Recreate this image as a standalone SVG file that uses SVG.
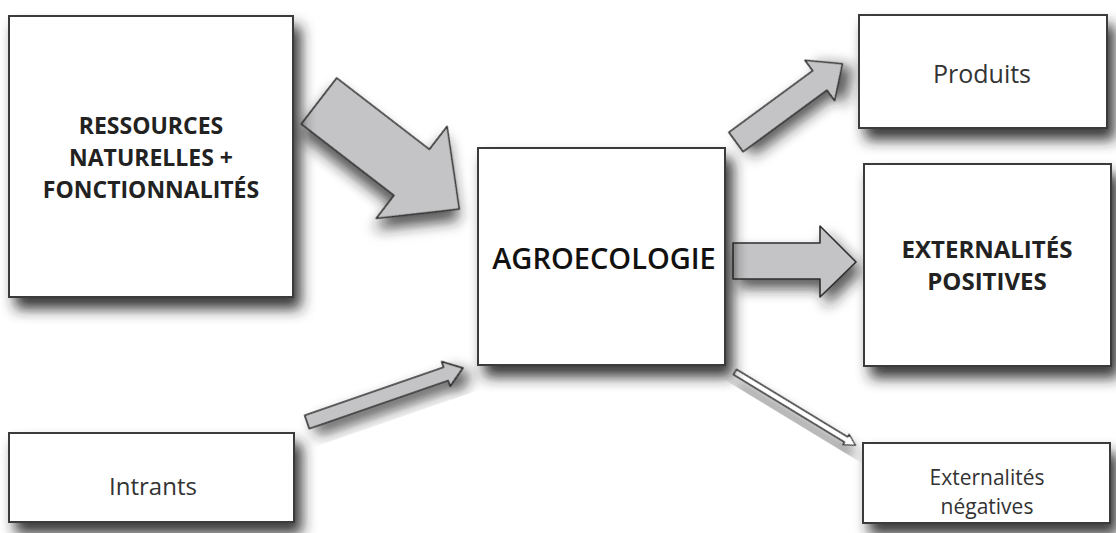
<svg xmlns="http://www.w3.org/2000/svg" width="1116" height="533" viewBox="0 0 1116 533">
  <defs>
    <filter id="sh" x="-20%" y="-20%" width="150%" height="160%">
      <feDropShadow dx="7" dy="11" stdDeviation="7" flood-color="#222222" flood-opacity="0.9"/>
    </filter>
    <filter id="sha" x="-30%" y="-30%" width="170%" height="180%">
      <feDropShadow dx="6" dy="9" stdDeviation="7" flood-color="#222222" flood-opacity="0.75"/>
    </filter>
    <style>
      .box { fill: #ffffff; stroke: #3a3a3a; stroke-width: 2; }
      .arr { fill: #c4c4c6; stroke: #2e2e2e; stroke-width: 1.6; stroke-linejoin: round; }
      .arrw { fill: #ffffff; stroke: #2e2e2e; stroke-width: 1.4; stroke-linejoin: round; }
      .tb { font-family: "Open Sans", "Noto Sans", sans-serif; font-weight: 700; fill: #222222; text-anchor: middle; }
      .tr { font-family: "Open Sans", "Noto Sans", sans-serif; font-weight: 400; fill: #333333; text-anchor: middle; }
      .ta { font-family: "Open Sans", "Noto Sans", sans-serif; font-weight: 600; fill: #111111; text-anchor: middle; }
    </style>
  </defs>
  <rect width="1116" height="533" fill="#ffffff"/>

  <g id="connectors">
    <!-- Ressources -> Agroecologie -->
    <polygon class="arr" filter="url(#sha)" transform="translate(319,101) rotate(37.6)" points="0,-29 117,-29 117,-58 177,0 117,58 117,29 0,29"/>
    <!-- Intrants -> Agroecologie -->
    <polygon class="arr" filter="url(#sha)" transform="translate(307,422) rotate(-19.1)" points="0,-7 147,-7 147,-13 165,0 147,13 147,7 0,7"/>
    <!-- Agroecologie -> Produits -->
    <polygon class="arr" filter="url(#sha)" transform="translate(736,142) rotate(-36.3)" points="0,-12 104,-12 104,-25 132,0 104,25 104,12 0,12"/>
    <!-- Agroecologie -> Externalites positives -->
    <polygon class="arr" filter="url(#sha)" points="733,243 820,243 820,226 856,262 820,297 820,279 733,279"/>
    <!-- Agroecologie -> Externalites negatives -->
    <polygon class="arrw" filter="url(#sha)" transform="translate(735,372) rotate(31.3)" points="0,-3 130,-3 130,-6 141,0 130,6 130,3 0,3"/>
  </g>

  <g id="ressources">
    <rect class="box" filter="url(#sh)" x="9" y="16" width="284" height="281"/>
    <text class="tb" font-size="23" x="151" y="134">RESSOURCES</text>
    <text class="tb" font-size="23" x="151" y="166">NATURELLES +</text>
    <text class="tb" font-size="23" x="151" y="198">FONCTIONNALITÉS</text>
  </g>

  <g id="intrants">
    <rect class="box" filter="url(#sh)" x="9" y="433" width="285" height="89"/>
    <text class="tr" font-size="24" x="153" y="495">Intrants</text>
  </g>

  <g id="agroecologie">
    <rect class="box" filter="url(#sh)" x="478" y="148" width="247" height="217"/>
    <text class="ta" font-size="29" x="604" y="269">AGROECOLOGIE</text>
  </g>

  <g id="produits">
    <rect class="box" filter="url(#sh)" x="859" y="15" width="248" height="113"/>
    <text class="tr" font-size="25" x="982" y="83">Produits</text>
  </g>

  <g id="externalites-positives">
    <rect class="box" filter="url(#sh)" x="864" y="164" width="247" height="202"/>
    <text class="tb" font-size="24" x="987" y="258">EXTERNALITÉS</text>
    <text class="tb" font-size="24" x="987" y="290">POSITIVES</text>
  </g>

  <g id="externalites-negatives">
    <rect class="box" filter="url(#sh)" x="863" y="443" width="247" height="80"/>
    <text class="tr" font-size="21" x="987" y="485">Externalités</text>
    <text class="tr" font-size="21" x="987" y="514">négatives</text>
  </g>
</svg>
